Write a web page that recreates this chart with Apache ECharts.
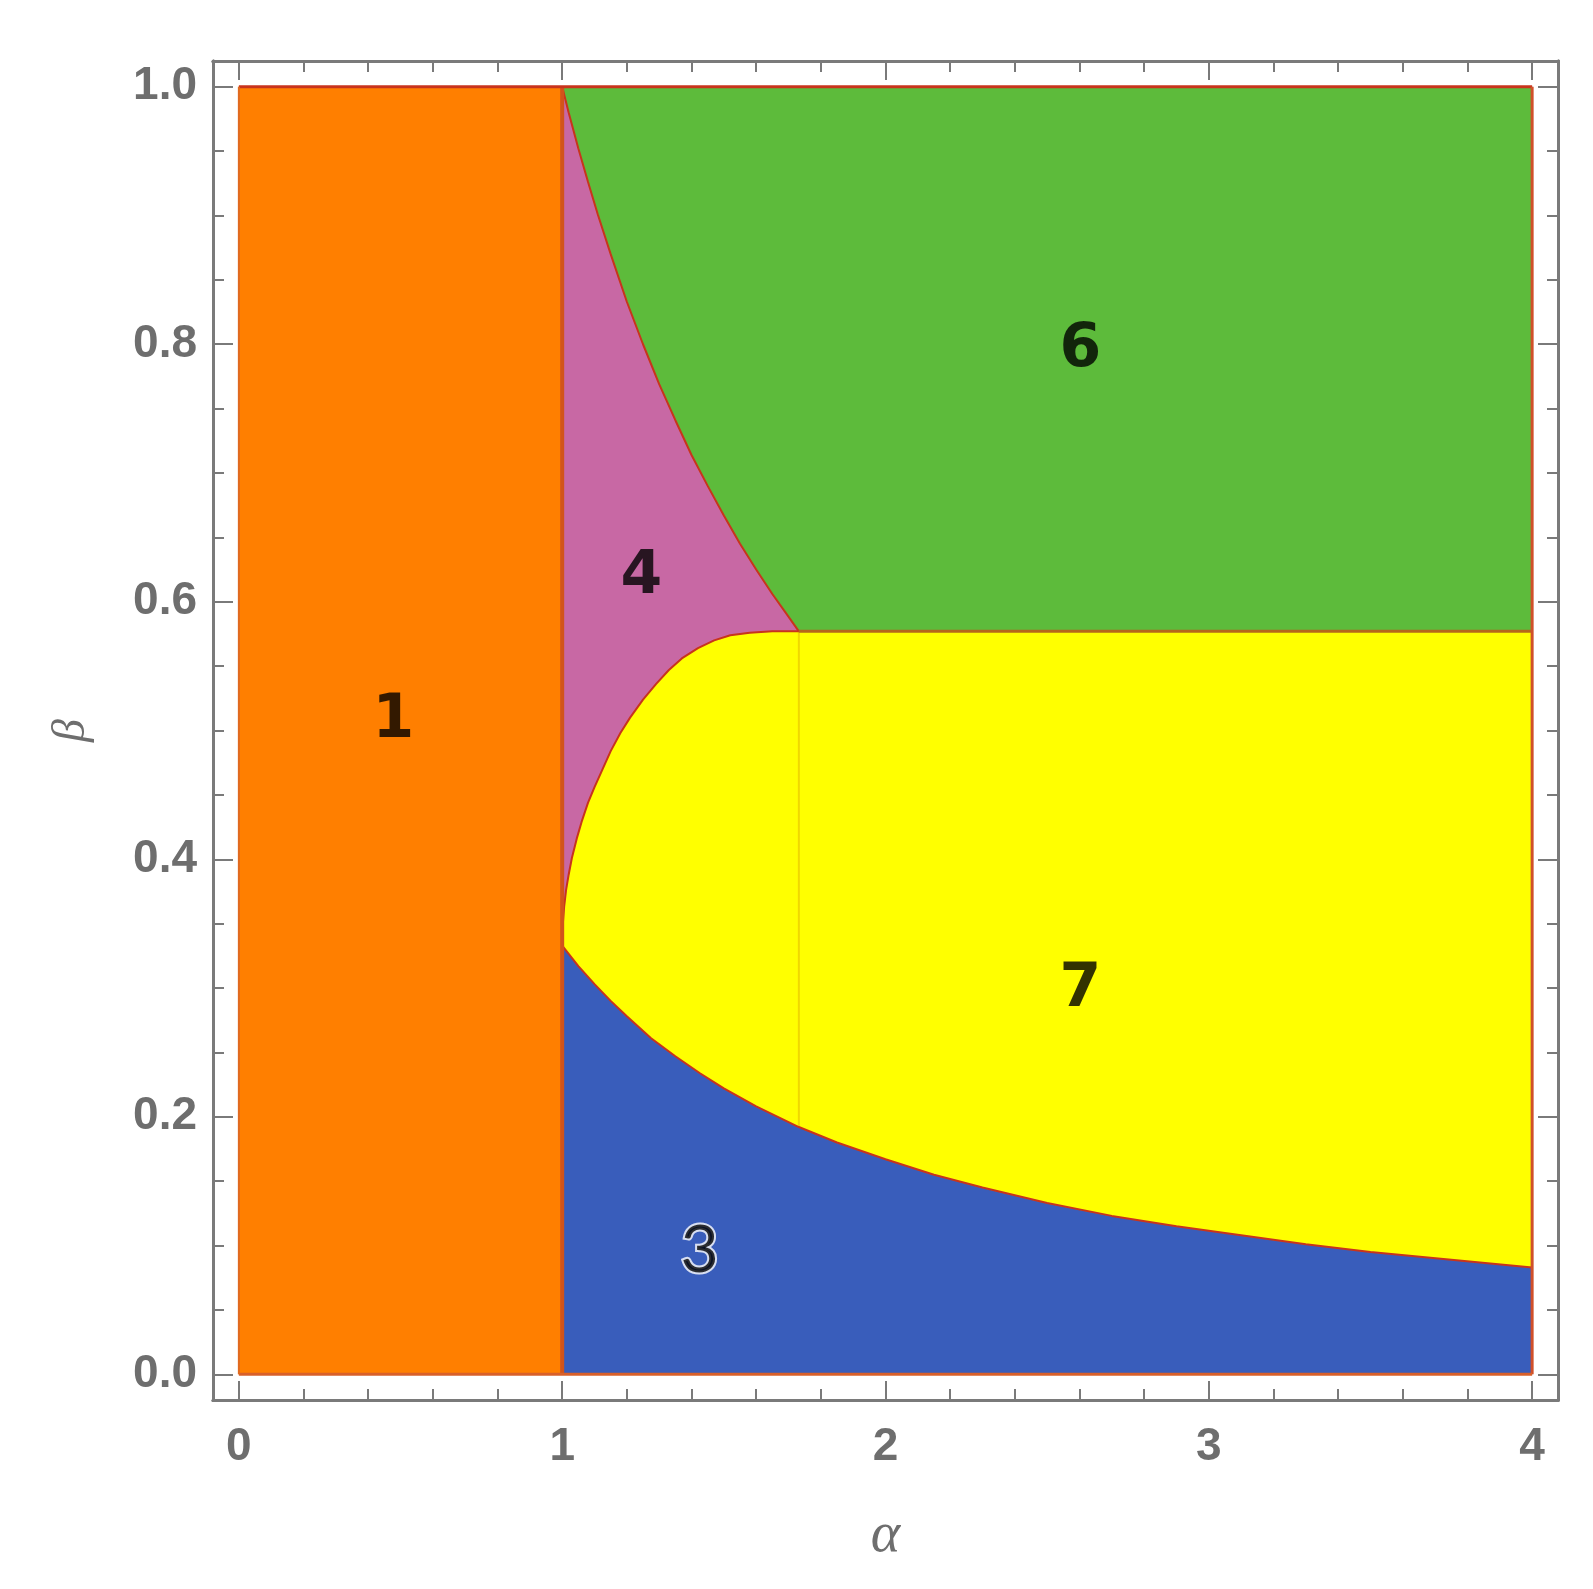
<!DOCTYPE html>
<html>
<head>
<meta charset="utf-8">
<script src="https://cdn.jsdelivr.net/npm/echarts@6/dist/echarts.min.js"></script>
<style>html,body{margin:0;padding:0;background:#fff;}#c{width:1593px;height:1589px;}</style>
</head>
<body>
<div id="c"></div>
<script>
// ---- data ----
const alphaMajor = [0, 1, 2, 3, 4];
const alphaMinor = [0.2,0.4,0.6,0.8,1.2,1.4,1.6,1.8,2.2,2.4,2.6,2.8,3.2,3.4,3.6,3.8];
const betaMajor = [0, 0.2, 0.4, 0.6, 0.8, 1.0];
const betaMinor = [0.05,0.1,0.15,0.25,0.3,0.35,0.45,0.5,0.55,0.65,0.7,0.75,0.85,0.9,0.95];

// boundary between region 4 (pink) and region 6 (green)
const curveGreen = [[1,1],[1.02,0.98],[1.05,0.952],[1.08,0.926],[1.11,0.901],[1.15,0.87],[1.2,0.833],[1.25,0.8],[1.3,0.769],[1.35,0.741],[1.4,0.714],[1.45,0.69],[1.5,0.667],[1.55,0.645],[1.6,0.625],[1.65,0.606],[1.69,0.592],[1.732,0.577]];
// upper boundary of region 7 (yellow) below region 4
const curveYellowTop = [[1,0.333],[1.002,0.35],[1.006,0.363],[1.012,0.376],[1.02,0.388],[1.03,0.401],[1.045,0.416],[1.06,0.429],[1.08,0.444],[1.1,0.456],[1.125,0.47],[1.15,0.484],[1.18,0.498],[1.21,0.51],[1.25,0.524],[1.29,0.536],[1.33,0.547],[1.37,0.556],[1.42,0.564],[1.47,0.570],[1.52,0.574],[1.58,0.576],[1.65,0.577],[1.732,0.577]];
// boundary between region 3 (blue) and region 7 (yellow)
const curveBlue = [[1,0.333],[1.05,0.317],[1.1,0.303],[1.15,0.29],[1.2,0.278],[1.275,0.261],[1.35,0.247],[1.425,0.234],[1.5,0.222],[1.6,0.208],[1.732,0.192],[1.85,0.18],[2,0.167],[2.15,0.155],[2.3,0.145],[2.5,0.133],[2.7,0.123],[2.9,0.115],[3.1,0.108],[3.3,0.101],[3.5,0.095],[3.75,0.089],[4,0.083]];
const betaFlat = 0.577;      // flat boundary between 6 and 7
const alphaCorner = 1.732;   // corner where regions 4, 6, 7 meet
const betaCornerLow = 0.192; // where the faint vertical line meets the blue curve

const regionNames = ['1', '3', '4', '6', '7'];
const regionLabelPos = [[0.478, 0.507], [1.425, 0.096], [1.245, 0.619], [2.603, 0.795], [2.603, 0.298]];

const colors = {orange:'#FF7F00', pink:'#C868A4', green:'#5DBB3B', yellow:'#FFFF00', blue:'#395DBB'};

// ---- region polygons built from the arrays ----
const polyOrange = [[0,0],[1,0],[1,1],[0,1]];
const polyPink = [...curveGreen, ...curveYellowTop.slice().reverse()];
const polyGreen = [...curveGreen, [4, betaFlat], [4, 1]];
const polyYellow = [...curveYellowTop, [4, betaFlat], ...curveBlue.slice().reverse()];
const polyBlue = [[1,0], ...curveBlue, [4,0]];

function polySeries(pts, fill) {
  return {
    type: 'custom', silent: true, z: 1,
    data: [[0, 0]],
    renderItem: (params, api) => ({
      type: 'polygon',
      shape: { points: pts.map(p => api.coord(p)) },
      style: { fill: fill, stroke: fill, lineWidth: 0.5 }
    })
  };
}
function lineSeries(pts, color, width, z) {
  return {
    type: 'line', data: pts, symbol: 'none', silent: true, z: z || 3,
    lineStyle: { color: color, width: width }
  };
}

const grey = '#7a7a7a';
function xAx(pos, ticks, len, labels, name) {
  return {
    type: 'value', min: -0.08, max: 4.08, position: pos,
    axisLine: { show: true, onZero: false, lineStyle: { color: grey, width: 3 } },
    axisTick: { show: true, inside: true, length: len, customValues: ticks, lineStyle: { color: grey, width: 2 } },
    axisLabel: labels ? { show: true, customValues: alphaMajor, fontSize: 46, fontWeight: 'bold', color: '#6e6e6e', fontFamily: 'Liberation Sans', margin: 24 } : { show: false },
    splitLine: { show: false },
    name: name || '', nameLocation: 'middle', nameGap: 108,
    nameTextStyle: { fontSize: 56, fontStyle: 'italic', color: '#6e6e6e', fontFamily: 'Liberation Serif' }
  };
}
function yAx(pos, ticks, len, labels, name) {
  return {
    type: 'value', min: -0.02, max: 1.02, position: pos,
    axisLine: { show: true, onZero: false, lineStyle: { color: grey, width: 3 } },
    axisTick: { show: true, inside: true, length: len, customValues: ticks, lineStyle: { color: grey, width: 2 } },
    axisLabel: labels ? { show: true, customValues: betaMajor, fontSize: 46, fontWeight: 'bold', color: '#6e6e6e', fontFamily: 'Liberation Sans', margin: 16, formatter: v => v.toFixed(1) } : { show: false },
    splitLine: { show: false },
    name: name || '', nameLocation: 'middle', nameGap: 118, nameRotate: 90,
    nameTextStyle: { fontSize: 46, fontStyle: 'italic', color: '#6e6e6e', fontFamily: 'Liberation Serif' }
  };
}

const chart = echarts.init(document.getElementById('c'), null, { renderer: 'canvas' });
const labelSeries = {
  type: 'scatter', symbolSize: 0, z: 10, silent: true,
  data: regionLabelPos.map((p, i) => {
    const thin = regionNames[i] === '3';
    return {
      value: p,
      label: {
        show: true, position: 'inside', formatter: regionNames[i],
        fontSize: thin ? 66 : 60,
        fontWeight: thin ? 'normal' : 'bold',
        fontFamily: thin ? 'Lato' : 'DejaVu Sans',
        color: '#000',
        textBorderColor: thin ? '#fff' : 'transparent',
        textBorderWidth: thin ? 4 : 0
      }
    };
  })
};

chart.setOption({
  animation: false,
  backgroundColor: '#ffffff',
  grid: { left: 213, top: 61, width: 1345, height: 1339 },
  xAxis: [
    xAx('bottom', alphaMajor, 19, true, 'α'),
    xAx('bottom', alphaMinor, 11, false),
    xAx('top', alphaMajor, 19, false),
    xAx('top', alphaMinor, 11, false)
  ],
  yAxis: [
    yAx('left', betaMajor, 20, true, 'β'),
    yAx('left', betaMinor, 11, false),
    yAx('right', betaMajor, 20, false),
    yAx('right', betaMinor, 11, false)
  ],
  series: [
    polySeries(polyOrange, colors.orange),
    polySeries(polyBlue, colors.blue),
    polySeries(polyYellow, colors.yellow),
    polySeries(polyPink, colors.pink),
    polySeries(polyGreen, colors.green),
    lineSeries([[alphaCorner, betaCornerLow], [alphaCorner, betaFlat]], '#f0d800', 2, 2),
    lineSeries(curveGreen, '#c8341c', 2),
    lineSeries(curveYellowTop, '#c8341c', 2),
    lineSeries(curveBlue, '#c8341c', 2),
    lineSeries([[alphaCorner, betaFlat], [4, betaFlat]], '#b5661c', 3),
    lineSeries([[1, 0], [1, 1]], '#d2541a', 4),
    lineSeries([[0, 1], [4, 1]], '#c8341c', 3),
    lineSeries([[4, 0], [4, 1]], '#d0502a', 3),
    lineSeries([[0, 0], [4, 0]], '#d8602a', 3),
    lineSeries([[0, 0], [0, 1]], '#e06a20', 2),
    labelSeries
  ]
});
</script>
</body>
</html>
